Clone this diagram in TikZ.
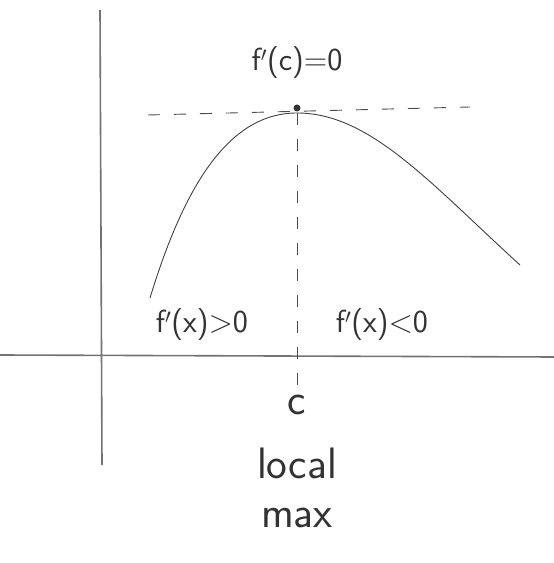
\documentclass[tikz,border=0pt]{standalone}
\usepackage{fontspec}
\setmainfont{DejaVu Sans}
\tikzset{
  pencil/.style={black!75, line width=0.9pt},
  axisline/.style={black!55, line width=1.6pt},
  guide/.style={black!70, line width=0.9pt, dash pattern=on 12pt off 14pt},
  handtext/.style={font=\fontsize{32}{36}\selectfont\sffamily, text=black!80, inner sep=0pt},
  bigtext/.style={handtext, font=\fontsize{44}{48}\selectfont\sffamily}
}
\begin{document}
\begin{tikzpicture}[x=1pt, y=1pt]
\useasboundingbox (0,0) rectangle (554,563);

%% axes
\coordinate (ytop) at (100,553);
\coordinate (ybot) at (102,98);
\coordinate (xleft) at (0,208);
\coordinate (xright) at (554,206);
\draw[axisline] (ytop) -- (ybot);
\draw[axisline] (xleft) -- (xright);

%% curve with its top
\coordinate (start) at (150,265);
\coordinate (peak) at (297,450);
\coordinate (finish) at (520,298);
\draw[pencil] (start) .. controls (185,380) and (230,450) .. (peak)
              .. controls (370,450) and (430,380) .. (finish);

%% tangent and drop line
\coordinate (tanl) at (148,448);
\coordinate (tanr) at (470,456);
\coordinate (cfoot) at (297,178);
\draw[guide] (tanl) -- (tanr);
\draw[guide] (peak) -- (cfoot);
\fill[black!80] (297,455) circle (3.5pt);

%% labels
\node[handtext] (fc) at (297,500) {f$'$(c)=0};
\node[handtext] (fplus) at (202,238) {f$'$(x)>0};
\node[handtext] (fminus) at (382,238) {f$'$(x)<0};
\node[bigtext] (cmark) at (297,158) {c};
\node[bigtext] (local) at (297,100) {local};
\node[bigtext] (maxlab) at (297,45) {max};

\end{tikzpicture}
\end{document}
